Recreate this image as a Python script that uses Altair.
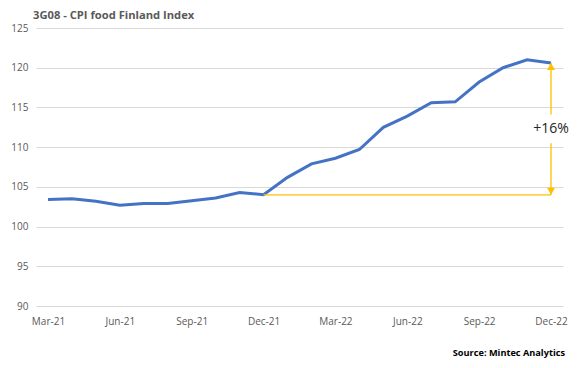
import altair as alt
import pandas as pd

months = ["Mar-21", "Apr-21", "May-21", "Jun-21", "Jul-21", "Aug-21", "Sep-21",
          "Oct-21", "Nov-21", "Dec-21", "Jan-22", "Feb-22", "Mar-22", "Apr-22",
          "May-22", "Jun-22", "Jul-22", "Aug-22", "Sep-22", "Oct-22", "Nov-22", "Dec-22"]
values = [103.4, 103.5, 103.2, 102.7, 102.9, 102.9, 103.25, 103.6, 104.3, 104.0,
          106.2, 107.9, 108.6, 109.7, 112.5, 113.9, 115.6, 115.7, 118.2, 120.0,
          121.0, 120.6]
tick_labels = ["Mar-21", "Jun-21", "Sep-21", "Dec-21", "Mar-22", "Jun-22", "Sep-22", "Dec-22"]
y_ticks = [90, 95, 100, 105, 110, 115, 120, 125]

base_month, end_month = "Dec-21", "Dec-22"
base_val = values[months.index(base_month)]
end_val = values[months.index(end_month)]
pct_label = "+16%"
mid_val = (base_val + end_val) / 2
gap = 1.8

BLUE = "#4472C4"
ORANGE = "#FFC000"
FONT = "Open Sans"

df = pd.DataFrame({"month": months, "value": values})

xaxis = alt.Axis(values=tick_labels, labelAngle=0, ticks=False, domain=False,
                 labelFont=FONT, labelFontSize=10, labelColor="#595959",
                 labelPadding=10, grid=False, labelOverlap=False)
yaxis = alt.Axis(values=y_ticks, ticks=False, domain=False, grid=True,
                 gridColor="#d9d9d9", gridWidth=1, labelOverlap=False,
                 labelFont=FONT, labelFontSize=10, labelColor="#595959",
                 labelPadding=8)
xscale = alt.Scale(type="point", padding=0.5)
yscale = alt.Scale(domain=[90, 125], nice=False, zero=False)


def X():
    return alt.X("month:O", sort=months, title=None, scale=xscale, axis=xaxis)


def Y(field):
    return alt.Y(field, scale=yscale, title=None, axis=yaxis)


line = alt.Chart(df).mark_line(color=BLUE, strokeWidth=3).encode(x=X(), y=Y("value:Q"))

hline_df = pd.DataFrame({"month": [base_month, end_month], "value": [base_val, base_val]})
hline = alt.Chart(hline_df).mark_line(color=ORANGE, strokeWidth=1.3).encode(
    x=X(), y=Y("value:Q"))

seg_df = pd.DataFrame({"month": [end_month, end_month],
                       "value": [base_val, mid_val + gap],
                       "value2": [mid_val - gap, end_val]})
segs = alt.Chart(seg_df).mark_rule(color=ORANGE, strokeWidth=1.3).encode(
    x=X(), y=Y("value:Q"), y2="value2:Q")

up_df = pd.DataFrame({"month": [end_month], "value": [end_val]})
up = alt.Chart(up_df).mark_point(shape="triangle-up", filled=True, color=ORANGE,
                                 size=65, opacity=1, yOffset=3.5).encode(
    x=X(), y=Y("value:Q"))
down_df = pd.DataFrame({"month": [end_month], "value": [base_val]})
down = alt.Chart(down_df).mark_point(shape="triangle-down", filled=True, color=ORANGE,
                                     size=65, opacity=1, yOffset=-3.5).encode(
    x=X(), y=Y("value:Q"))

lab_df = pd.DataFrame({"month": [end_month], "value": [mid_val], "text": [pct_label]})
lab = alt.Chart(lab_df).mark_text(font=FONT, fontSize=14, color="#262626",
                                  align="center", baseline="middle").encode(
    x=X(), y=Y("value:Q"), text="text:N")

title = alt.Chart(pd.DataFrame({"t": ["3G08 - CPI food Finland Index"]})).mark_text(
    font=FONT, fontSize=11.2, fontWeight="bold", color="#595959", align="left",
    baseline="middle").encode(x=alt.value(-3), y=alt.value(-12), text="t:N")

source = alt.Chart(pd.DataFrame({"t": ["Source: Mintec Analytics"]})).mark_text(
    font=FONT, fontSize=9.2, fontWeight="bold", color="#000000", align="right",
    baseline="middle").encode(x=alt.value(529), y=alt.value(47 + 278), text="t:N")

chart = alt.layer(line, hline, segs, up, down, lab, title, source).properties(
    width=527, height=278,
    autosize=alt.AutoSizeParams(type="none"),
    padding={"left": 28, "top": 20, "right": 12, "bottom": 54},
).configure_view(stroke=None)

chart.save("out.html", embed_options={"renderer": "svg", "actions": False})
